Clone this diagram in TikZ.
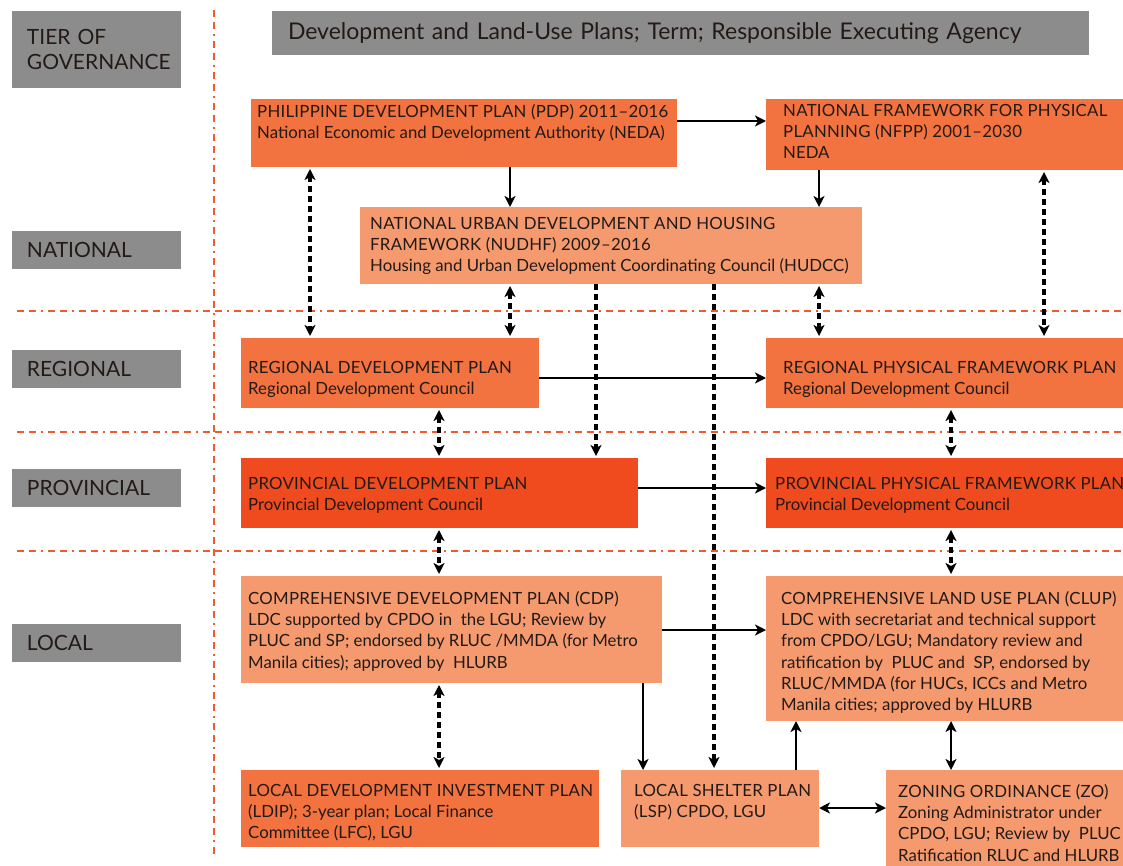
\documentclass[tikz,border=0pt]{standalone}
\usepackage{fontspec}
\setmainfont{Lato}
\newfontfamily\ttlfont[LetterSpace=1.5]{Lato}
\newcommand{\ttl}[1]{{\ttlfont #1}}
\usetikzlibrary{arrows.meta}
\definecolor{midO}{HTML}{F27240}
\definecolor{lightO}{HTML}{F59A6E}
\definecolor{redO}{HTML}{F04B1E}
\definecolor{grayL}{HTML}{8C8C8C}
\definecolor{txt}{HTML}{231A17}
\definecolor{guide}{HTML}{F25A2E}
\tikzset{
  plan/.style={anchor=north west, inner sep=0pt, outer sep=0pt},
  midbox/.style={plan, fill=midO},
  lightbox/.style={plan, fill=lightO},
  redbox/.style={plan, fill=redO},
  tierbox/.style={plan, fill=grayL, minimum height=38pt, text width=139pt, inner xsep=15pt, inner ysep=0pt, align=left, text=txt, font=\fontsize{21}{25}\selectfont},
  ptxt/.style={anchor=north west, inner sep=0pt, align=left, text=txt, font=\fontsize{16.8}{21.3}\selectfont},
  guideline/.style={draw=guide, line width=1.3pt, dash pattern=on 7pt off 5pt on 7pt off 5pt on 2pt off 5pt},
  link/.style={line width=2.8pt, -{Stealth[length=11pt,width=11pt,inset=3pt]}},
  dlink/.style={line width=3.2pt, dash pattern=on 6pt off 4pt, -{Stealth[length=11pt,width=11pt,inset=3pt]}, shorten >=2pt},
  ddlink/.style={line width=3.2pt, dash pattern=on 6pt off 4pt, {Stealth[length=11pt,width=11pt,inset=3pt]}-{Stealth[length=11pt,width=11pt,inset=3pt]}, shorten >=2pt, shorten <=2pt},
  dsolid/.style={line width=2.8pt, {Stealth[length=11pt,width=11pt,inset=3pt]}-{Stealth[length=11pt,width=11pt,inset=3pt]}},
}
\begin{document}
\begin{tikzpicture}[x=1pt,y=-1pt]
\clip (0,0) rectangle (1123,866);
\fill[white] (0,0) rectangle (1123,866);

% guide lines
\draw[guideline] (214,10) -- (214,855);
\draw[guideline] (17,311) -- (1123,311);
\draw[guideline] (17,432) -- (1123,432);
\draw[guideline] (17,551) -- (1123,551);

% tier labels
\node[tierbox, minimum height=77pt] (tier) at (12,11) {TIER OF\\GOVERNANCE};
\node[tierbox, yshift=-1pt] (national) at (12,230) {NATIONAL};
\node[tierbox, yshift=-1pt] (regional) at (12,349) {REGIONAL};
\node[tierbox, yshift=-1pt] (provincial) at (12,468) {PROVINCIAL};
\node[tierbox, yshift=-1pt] (local) at (12,623) {LOCAL};

% header
\node[plan, fill=grayL, minimum width=817pt, minimum height=44pt, text width=785pt, inner xsep=16pt, align=left, text=txt, font=\fontsize{23}{27}\selectfont] (header) at (272,11) {Development and Land-Use Plans; Term; Responsible Executing Agency};

% plan boxes
\node[midbox, minimum width=426pt, minimum height=68pt,
  label={[ptxt, name=pdpT, xshift=6pt, yshift=-5pt]north west:{\ttl{PHILIPPINE DEVELOPMENT PLAN (PDP) 2011–2016}\\National Economic and Development Authority (NEDA)}}] (pdp) at (251,99) {};
\node[midbox, minimum width=357pt, minimum height=71pt,
  label={[ptxt, name=nfppT, xshift=17pt, yshift=-5pt]north west:{\ttl{NATIONAL FRAMEWORK FOR PHYSICAL}\\\ttl{PLANNING (NFPP) 2001–2030}\\NEDA}}] (nfpp) at (766,99) {};
\node[lightbox, minimum width=502pt, minimum height=77pt,
  label={[ptxt, name=nudhfT, xshift=10pt, yshift=-10pt]north west:{\ttl{NATIONAL URBAN DEVELOPMENT AND HOUSING}\\\ttl{FRAMEWORK (NUDHF) 2009–2016}\\Housing and Urban Development Coordinating Council (HUDCC)}}] (nudhf) at (360,207) {};
\node[midbox, minimum width=298pt, minimum height=70pt,
  label={[ptxt, name=rdpT, xshift=7pt, yshift=-23pt]north west:{\ttl{REGIONAL DEVELOPMENT PLAN}\\Regional Development Council}}] (rdp) at (241,338) {};
\node[midbox, minimum width=357pt, minimum height=70pt,
  label={[ptxt, name=rpfpT, xshift=17pt, yshift=-23pt]north west:{\ttl{REGIONAL PHYSICAL FRAMEWORK PLAN}\\Regional Development Council}}] (rpfp) at (766,338) {};
\node[redbox, minimum width=397pt, minimum height=70pt,
  label={[ptxt, name=ppdpT, xshift=7pt, yshift=-19pt]north west:{\ttl{PROVINCIAL DEVELOPMENT PLAN}\\Provincial Development Council}}] (ppdp) at (241,458) {};
\node[redbox, minimum width=357pt, minimum height=70pt,
  label={[ptxt, name=ppfpT, xshift=9pt, yshift=-19pt]north west:{\ttl{PROVINCIAL PHYSICAL FRAMEWORK PLAN}\\Provincial Development Council}}] (ppfp) at (766,458) {};
\node[lightbox, minimum width=421pt, minimum height=107pt,
  label={[ptxt, name=cdpT, xshift=7pt, yshift=-15pt]north west:{\ttl{COMPREHENSIVE DEVELOPMENT PLAN (CDP)}\\LDC supported by CPDO in\ \ the LGU; Review by\\PLUC and SP; endorsed by RLUC /MMDA (for Metro\\Manila cities); approved by\ \ HLURB}}] (cdp) at (241,576) {};
\node[lightbox, minimum width=357pt, minimum height=145pt,
  label={[ptxt, name=clupT, xshift=15pt, yshift=-15pt]north west:{\ttl{COMPREHENSIVE LAND USE PLAN (CLUP)}\\LDC with secretariat and technical support\\from CPDO/LGU; Mandatory review and\\ratification by\ \ PLUC and\ \ SP, endorsed by\\RLUC/MMDA (for HUCs, ICCs and Metro\\Manila cities; approved by HLURB}}] (clup) at (766,576) {};
\node[midbox, minimum width=358pt, minimum height=77pt,
  label={[ptxt, name=ldipT, xshift=7pt, yshift=-14pt]north west:{\ttl{LOCAL DEVELOPMENT INVESTMENT PLAN}\\(LDIP); 3-year plan; Local Finance\\Committee (LFC), LGU}}] (ldip) at (241,770) {};
\node[lightbox, minimum width=198pt, minimum height=77pt,
  label={[ptxt, name=lspT, xshift=13pt, yshift=-14pt]north west:{\ttl{LOCAL SHELTER PLAN}\\\ttl{(LSP) CPDO, LGU}}}] (lsp) at (621,770) {};
\node[lightbox, minimum width=237pt, minimum height=100pt,
  label={[ptxt, name=zoT, xshift=12pt, yshift=-14pt]north west:{\ttl{ZONING ORDINANCE (ZO)}\\Zoning Administrator under\\CPDO, LGU; Review by\ \ PLUC\\Ratification RLUC and HLURB}}] (zo) at (886,770) {};

% helper coordinates for connector positions
\coordinate (c310) at (310,0);
\coordinate (c439) at (439,0);
\coordinate (c510) at (510,0);
\coordinate (c596) at (596,0);
\coordinate (c643) at (643,0);
\coordinate (c714) at (714,0);
\coordinate (c796) at (796,0);
\coordinate (c819) at (819,0);
\coordinate (c951) at (951,0);
\coordinate (c1044) at (1044,0);
\coordinate (r121) at (0,121);
\coordinate (r378) at (0,378);
\coordinate (r488) at (0,488);
\coordinate (r630) at (0,630);
\coordinate (r808) at (0,808);

% solid connectors
\draw[link] (pdp.east |- r121) -- (nfpp.west |- r121);
\draw[link] (pdp.south -| c510) -- (nudhf.north -| c510);
\draw[link] (nfpp.south -| c819) -- (nudhf.north -| c819);
\draw[link] (rdp.east |- r378) -- (rpfp.west |- r378);
\draw[link] (ppdp.east |- r488) -- (ppfp.west |- r488);
\draw[link] (cdp.east |- r630) -- (clup.west |- r630);
\draw[link] (cdp.south -| c643) -- (lsp.north -| c643);
\draw[link] (lsp.north -| c796) -- (clup.south -| c796);
\draw[dsolid] (clup.south -| c951) -- (zo.north -| c951);
\draw[dsolid] (lsp.east |- r808) -- (zo.west |- r808);

% dashed connectors
\draw[ddlink] (pdp.south -| c310) -- (rdp.north -| c310);
\draw[ddlink] (nfpp.south -| c1044) -- (rpfp.north -| c1044);
\draw[ddlink] (nudhf.south -| c510) -- (rdp.north -| c510);
\draw[ddlink] (nudhf.south -| c819) -- (rpfp.north -| c819);
\draw[dlink] (nudhf.south -| c596) -- (ppdp.north -| c596);
\draw[dlink] (nudhf.south -| c714) -- (lsp.north -| c714);
\draw[ddlink] (rdp.south -| c439) -- (ppdp.north -| c439);
\draw[ddlink] (rpfp.south -| c951) -- (ppfp.north -| c951);
\draw[ddlink] (ppdp.south -| c439) -- (cdp.north -| c439);
\draw[ddlink] (ppfp.south -| c951) -- (clup.north -| c951);
\draw[ddlink] (cdp.south -| c439) -- (ldip.north -| c439);
\end{tikzpicture}
\end{document}
